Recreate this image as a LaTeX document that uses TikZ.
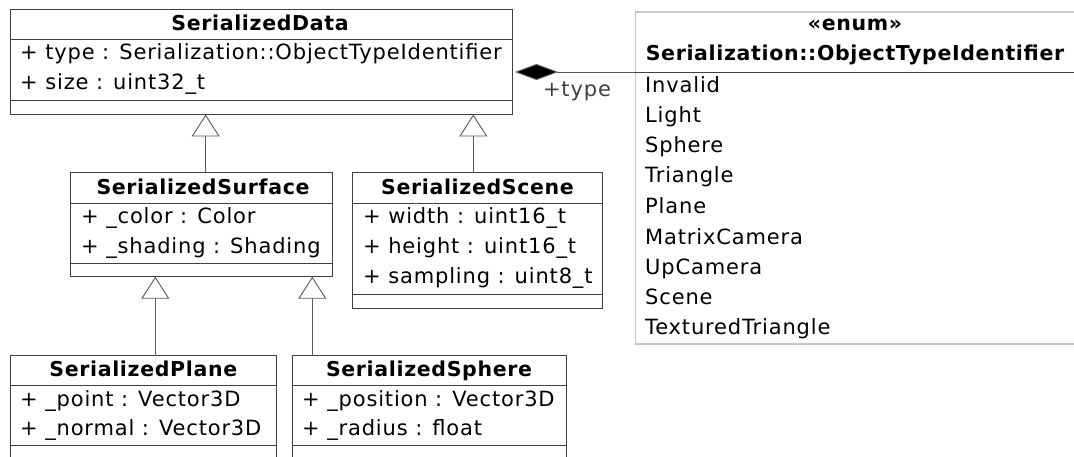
\documentclass[tikz,border=0pt]{standalone}
\usepackage{fontspec}
\setmainfont{DejaVu Sans}
\newfontfamily\regfont[LetterSpace=4]{DejaVu Sans}
\newfontfamily\ttlfont[LetterSpace=3.2]{DejaVu Sans Bold}
\usetikzlibrary{arrows.meta}
\begin{document}
\begin{tikzpicture}[x=1pt,y=-1pt,
  cls/.style={draw=black!75, line width=0.9pt, anchor=north west, inner sep=0pt, outer sep=0pt, fill=white},
  enumbox/.style={draw=black!22, line width=1.2pt, anchor=north west, inner sep=0pt, outer sep=0pt},
  ttl/.style={font=\ttlfont\fontsize{20.5}{24}\selectfont, inner sep=0pt, anchor=center, text height=15pt, text depth=4pt},
  attr/.style={font=\regfont\fontsize{21}{24}\selectfont, inner sep=0pt, anchor=west, text height=15pt, text depth=4pt},
  sep/.style={draw=black!75, line width=0.9pt},
  inh/.style={draw=black!65, line width=0.9pt, -{Triangle[open,width=28pt,length=22pt,fill=white]}},
  comp/.style={draw=black!65, line width=0.9pt, -{Diamond[width=16pt,length=43pt,fill=black]}},
  rolelbl/.style={font=\regfont\fontsize{21}{24}\selectfont, text=black!75, inner sep=0pt, anchor=center, text height=15pt, text depth=4pt},
]
\useasboundingbox (0,0) rectangle (1074,457);

% ---------- SerializedData ----------
\node[cls, minimum width=502pt, minimum height=105pt] (sd) at (10,9.5) {};
\draw[sep] (10,39.3) -- (512,39.3);
\draw[sep] (10,100) -- (512,100);
\node[ttl] (sdname) at (260,25) {SerializedData};
\node[attr] (sda1) at (20,54) {+ type : Serialization::ObjectTypeIdentifier};
\node[attr] (sda2) at (20,84) {+ size : uint32\_t};

% ---------- enum ----------
\node[enumbox, minimum width=470pt, minimum height=332pt] (enum) at (635.3,12) {};
\draw[sep] (635.3,72) -- (1080,72);
\node[ttl] (enumst) at (855,25) {«enum»};
\node[ttl] (enumname) at (855,55) {Serialization::ObjectTypeIdentifier};
\node[attr] (e1) at (645,87) {Invalid};
\node[attr] (e2) at (645,117) {Light};
\node[attr] (e3) at (645,147) {Sphere};
\node[attr] (e4) at (645,177.5) {Triangle};
\node[attr] (e5) at (645,208) {Plane};
\node[attr] (e6) at (645,238.5) {MatrixCamera};
\node[attr] (e7) at (645,268.5) {UpCamera};
\node[attr] (e8) at (645,298.5) {Scene};
\node[attr] (e9) at (645,328.5) {TexturedTriangle};

% composition
\coordinate (cenum) at (635.3,72);
\coordinate (csd) at (515,72);
\draw[comp] (cenum) -- (csd);
\node[rolelbl] (role) at (577,91) {+type};

% ---------- SerializedSurface ----------
\node[cls, minimum width=261.6pt, minimum height=104pt] (surf) at (70.7,172.7) {};
\draw[sep] (70.7,203) -- (332.3,203);
\draw[sep] (70.7,263.3) -- (332.3,263.3);
\node[ttl] (surfname) at (203,189) {SerializedSurface};
\node[attr] (sua1) at (81,218) {+ \_color : Color};
\node[attr] (sua2) at (81,248) {+ \_shading : Shading};

% ---------- SerializedScene ----------
\node[cls, minimum width=249.6pt, minimum height=135.6pt] (scene) at (352.7,172.7) {};
\draw[sep] (352.7,203) -- (602.3,203);
\draw[sep] (352.7,294.3) -- (602.3,294.3);
\node[ttl] (scenename) at (477.5,189) {SerializedScene};
\node[attr] (sca1) at (363,218) {+ width : uint16\_t};
\node[attr] (sca2) at (363,248) {+ height : uint16\_t};
\node[attr] (sca3) at (363,278) {+ sampling : uint8\_t};

% ---------- SerializedPlane ----------
\node[cls, minimum width=266.7pt, minimum height=130pt] (plane) at (10,355.5) {};
\draw[sep] (10,385.5) -- (276.7,385.5);
\draw[sep] (10,445.7) -- (276.7,445.7);
\node[ttl] (planename) at (143.3,371) {SerializedPlane};
\node[attr] (pla1) at (20,400.5) {+ \_point : Vector3D};
\node[attr] (pla2) at (20,430) {+ \_normal : Vector3D};

% ---------- SerializedSphere ----------
\node[cls, minimum width=273.7pt, minimum height=130pt] (sphere) at (292.3,355.5) {};
\draw[sep] (292.3,385.5) -- (566,385.5);
\draw[sep] (292.3,445.7) -- (566,445.7);
\node[ttl] (spherename) at (429,371) {SerializedSphere};
\node[attr] (sha1) at (302,400.5) {+ \_position : Vector3D};
\node[attr] (sha2) at (302,430) {+ \_radius : float};

% ---------- inheritance ----------
\draw[inh] ([xshift=4.2pt]surf.north) -- ([xshift=4.2pt]surf.north |- sd.south);
\draw[inh] ([xshift=-4.2pt]scene.north) -- ([xshift=-4.2pt]scene.north |- sd.south);
\draw[inh] ([xshift=145.3pt]plane.north west) -- ([xshift=145.3pt]plane.north west |- surf.south);
\draw[inh] ([xshift=20pt]sphere.north west) -- ([xshift=20pt]sphere.north west |- surf.south);
\end{tikzpicture}
\end{document}
